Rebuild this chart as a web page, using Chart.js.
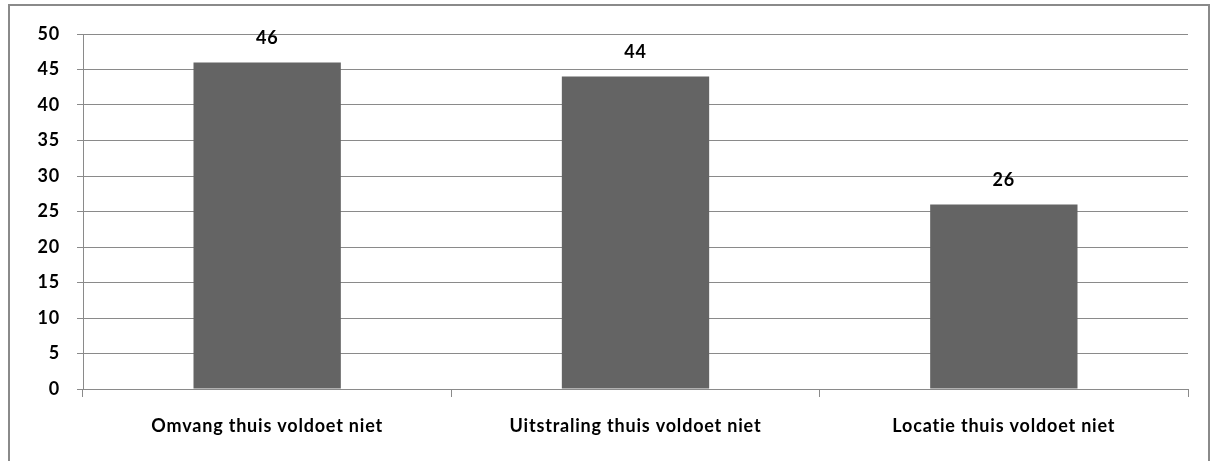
<!DOCTYPE html>
<html>
<head>
<meta charset="utf-8">
<script src="https://cdn.jsdelivr.net/npm/chart.js@4"></script>
<style>
  html, body { margin: 0; padding: 0; background: #fff; }
  #wrap { position: relative; width: 1214px; height: 461px; overflow: hidden; }
  #frame {
    position: absolute; left: 8px; top: 4px; width: 1202px; height: 470px;
    border: 2px solid #8a8a8a; box-sizing: border-box;
  }
  canvas { position: absolute; left: 0; top: 0; }
</style>
</head>
<body>
<div id="wrap">
  <div id="frame"></div>
  <canvas id="chart" width="1214" height="461"></canvas>
</div>
<script>
  const categories = [
    "Omvang thuis voldoet niet",
    "Uitstraling thuis voldoet niet",
    "Locatie thuis voldoet niet",
  ];
  const values = [46, 44, 26];
  const yTicks = [0, 5, 10, 15, 20, 25, 30, 35, 40, 45, 50];

  const labelFont = { family: "Lato, 'Open Sans', sans-serif", size: 18, weight: "bold" };

  // slightly wider text, closer to the original's look
  const spacing = {
    id: "spacing",
    beforeDraw(chart) {
      chart.ctx.letterSpacing = "0.8px";
    },
  };

  // write the value above each bar
  const valueLabels = {
    id: "valueLabels",
    afterDatasetsDraw(chart) {
      const ctx = chart.ctx;
      const meta = chart.getDatasetMeta(0);
      ctx.save();
      ctx.letterSpacing = "0.8px";
      ctx.font = "bold 18px Lato, 'Open Sans', sans-serif";
      ctx.fillStyle = "#000";
      ctx.textAlign = "center";
      ctx.textBaseline = "middle";
      meta.data.forEach((bar, i) => {
        ctx.fillText(String(values[i]), bar.x, bar.y - 24);
      });
      ctx.restore();
    },
  };

  new Chart(document.getElementById("chart"), {
    type: "bar",
    data: {
      labels: categories,
      datasets: [
        {
          data: values,
          backgroundColor: "#646464",
          borderWidth: 0,
          barPercentage: 0.4,
          categoryPercentage: 1,
        },
      ],
    },
    options: {
      responsive: false,
      animation: false,
      layout: { padding: { left: 0, top: 34, right: 26, bottom: 0 } },
      plugins: {
        legend: { display: false },
        tooltip: { enabled: false },
      },
      scales: {
        y: {
          min: 0,
          max: 50,
          afterFit: (scale) => { scale.width = 83; },
          afterBuildTicks: (scale) => { scale.ticks = yTicks.map((v) => ({ value: v })); },
          border: { color: "#8a8a8a", width: 1 },
          grid: { color: "#8a8a8a", lineWidth: 1, tickLength: 6 },
          ticks: { font: labelFont, color: "#000", padding: 17 },
        },
        x: {
          afterFit: (scale) => { scale.height = 72; },
          border: { color: "#8a8a8a", width: 1 },
          grid: {
            color: "#8a8a8a",
            drawOnChartArea: false,
            drawTicks: true,
            tickLength: 8,
            offset: true,
          },
          ticks: { font: labelFont, color: "#000", padding: 18 },
        },
      },
    },
    plugins: [spacing, valueLabels],
  });
</script>
</body>
</html>
